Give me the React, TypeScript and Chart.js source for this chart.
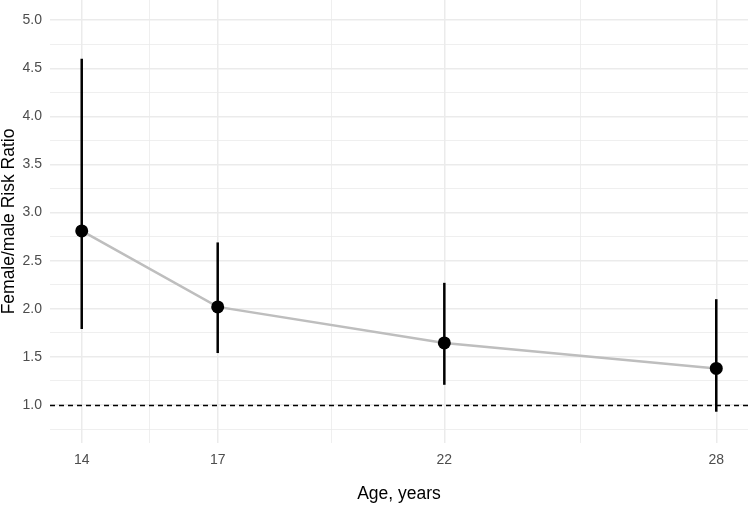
import React, { useEffect, useRef } from "react";
import { Chart, registerables } from "chart.js";

Chart.register(...registerables);

// Data
const ages = [14, 17, 22, 28];
const riskRatio = [2.81, 2.02, 1.645, 1.38];
const ciLower = [1.79, 1.54, 1.21, 0.93];
const ciUpper = [4.6, 2.69, 2.27, 2.1];
const referenceLine = 1.0;

// Axis ticks
const xMajorTicks = [14, 17, 22, 28];
const xMinorTicks = [15.5, 19.5, 25];
const yMajorTicks = [1.0, 1.5, 2.0, 2.5, 3.0, 3.5, 4.0, 4.5, 5.0];
const yMinorTicks = [0.75, 1.25, 1.75, 2.25, 2.75, 3.25, 3.75, 4.25, 4.75];

const xTitle = "Age, years";
const yTitle = "Female/male Risk Ratio";

const FONT = "'Liberation Sans', Arial, Helvetica, sans-serif";
const GRID = "#EBEBEB";

export default function App() {
  const canvasRef = useRef<HTMLCanvasElement | null>(null);

  useEffect(() => {
    const canvas = canvasRef.current;
    if (!canvas) return;

    const xTicksAll = [...xMajorTicks, ...xMinorTicks].sort((a, b) => a - b);
    const yTicksAll = [...yMajorTicks, ...yMinorTicks].sort((a, b) => a - b);
    const isXMajor = (v: number) => xMajorTicks.some((t) => Math.abs(t - v) < 1e-9);
    const isYMajor = (v: number) => yMajorTicks.some((t) => Math.abs(t - v) < 1e-9);

    const overlay = {
      id: "overlay",
      beforeDatasetsDraw(chart: any) {
        const { ctx, chartArea, scales } = chart;
        const y = Math.round(scales.y.getPixelForValue(referenceLine)) + 0.5;
        ctx.save();
        ctx.strokeStyle = "#000";
        ctx.lineWidth = 1.3;
        ctx.setLineDash([5, 4]);
        ctx.beginPath();
        ctx.moveTo(chartArea.left, y);
        ctx.lineTo(chartArea.right, y);
        ctx.stroke();
        ctx.restore();
      },
      afterDatasetDraw(chart: any, args: any) {
        if (args.index !== 1) return;
        const { ctx, scales } = chart;
        ctx.save();
        ctx.strokeStyle = "#000";
        ctx.lineWidth = 2.5;
        ctx.lineCap = "butt";
        ages.forEach((a, i) => {
          const x = scales.x.getPixelForValue(a);
          ctx.beginPath();
          ctx.moveTo(x, scales.y.getPixelForValue(ciLower[i]));
          ctx.lineTo(x, scales.y.getPixelForValue(ciUpper[i]));
          ctx.stroke();
        });
        ctx.restore();
      },
    };

    const chart = new Chart(canvas, {
      type: "line",
      data: {
        datasets: [
          {
            label: "points",
            data: ages.map((a, i) => ({ x: a, y: riskRatio[i] })),
            showLine: false,
            pointRadius: 6.5,
            pointBackgroundColor: "#000",
            pointBorderWidth: 0,
            borderColor: "#000",
          },
          {
            label: "line",
            data: ages.map((a, i) => ({ x: a, y: riskRatio[i] })),
            borderColor: "#BEBEBE",
            borderWidth: 2.5,
            pointRadius: 0,
            tension: 0,
            fill: false,
          },
        ],
      },
      options: {
        responsive: false,
        animation: false,
        devicePixelRatio: 1,
        layout: { autoPadding: false, padding: { top: 0, left: 0, right: 2, bottom: 0 } },
        plugins: {
          legend: { display: false },
          tooltip: { enabled: false },
        },
        scales: {
          x: {
            type: "linear",
            min: 13.3,
            max: 28.7,
            border: { display: false },
            grid: {
              color: GRID,
              lineWidth: (ctx: any) => (ctx.tick && isXMajor(ctx.tick.value) ? 1.5 : 0.8),
              drawTicks: false,
            },
            afterBuildTicks: (scale: any) => {
              scale.ticks = xTicksAll.map((v) => ({ value: v }));
            },
            ticks: {
              autoSkip: false,
              maxRotation: 0,
              padding: 9,
              color: "#4D4D4D",
              font: { family: FONT, size: 14 },
              callback: (v: any) => (isXMajor(Number(v)) ? String(v) : ""),
            },
            title: {
              display: true,
              text: xTitle,
              color: "#000",
              font: { family: FONT, size: 17.5, lineHeight: 1 },
              padding: { top: 0, bottom: 3.75 },
            },
            afterFit: (scale: any) => {
              scale.height = 64;
              scale.paddingLeft = 0;
              scale.paddingRight = 0;
            },
          },
          y: {
            type: "linear",
            min: 0.605,
            max: 5.21,
            border: { display: false },
            grid: {
              color: GRID,
              lineWidth: (ctx: any) => (ctx.tick && isYMajor(ctx.tick.value) ? 1.5 : 0.8),
              drawTicks: false,
            },
            afterBuildTicks: (scale: any) => {
              scale.ticks = yTicksAll.map((v) => ({ value: v }));
            },
            ticks: {
              autoSkip: false,
              padding: 8,
              color: "#4D4D4D",
              font: { family: FONT, size: 14 },
              callback: (v: any) => (isYMajor(Number(v)) ? Number(v).toFixed(1) : ""),
            },
            title: {
              display: true,
              text: yTitle,
              color: "#000",
              font: { family: FONT, size: 17.5, lineHeight: 1 },
              padding: { top: 0, bottom: 0 },
            },
            afterFit: (scale: any) => {
              scale.width = 50;
              scale.paddingTop = 0;
              scale.paddingBottom = 0;
            },
          },
        },
      },
      plugins: [overlay],
    } as any);

    return () => chart.destroy();
  }, []);

  return (
    <div style={{ position: "absolute", left: 0, top: 0, width: 750, height: 507, background: "#fff" }}>
      <canvas ref={canvasRef} width={750} height={507} style={{ display: "block" }} />
    </div>
  );
}
